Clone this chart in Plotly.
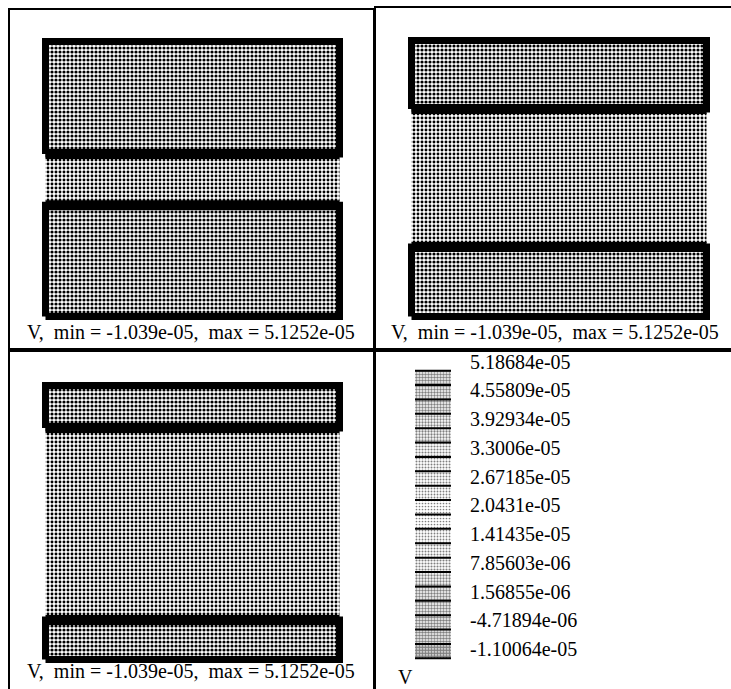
import plotly.graph_objects as go

# ---------------- data ----------------
field_name = "V"
v_min = -1.039e-05
v_max = 5.1252e-05
# interface positions (normalised domain height 0..1), one per snapshot panel
upper_plate_bottom = [0.591, 0.752, 0.845]
lower_plate_top = [0.405, 0.252, 0.144]
# contour levels of the legend
levels = [5.18684e-05, 4.55809e-05, 3.92934e-05, 3.3006e-05, 2.67185e-05,
          2.0431e-05, 1.41435e-05, 7.85603e-06, 1.56855e-06, -4.71894e-06,
          -1.10064e-05]
level_labels = ["5.18684e-05", "4.55809e-05", "3.92934e-05", "3.3006e-05",
                "2.67185e-05", "2.0431e-05", "1.41435e-05", "7.85603e-06",
                "1.56855e-06", "-4.71894e-06", "-1.10064e-05"]
# stipple density of each legend band (top to bottom)
band_density = [0.55, 0.5, 0.5, 0.45, 0.45, 0.4, 0.35, 0.35, 0.3, 0.25,
                0.25, 0.3, 0.35, 0.4, 0.45, 0.5, 0.5, 0.55, 0.6, 0.75]
plate_density = 0.5
gap_density = 0.42

# ---------------- layout constants (pixels) ----------------
W, H = 731, 689
FONT = "Liberation Serif, Times New Roman, serif"

def px2paper_x(p):
    return p / W

def px2paper_y(p):
    return 1 - p / H

def axis_range(frame_lo, frame_hi, d0_px, d1_px, d0=0.0, d1=1.0):
    k = (d1_px - d0_px) / (d1 - d0)
    return d0 + (frame_lo - d0_px) / k, d0 + (frame_hi - d0_px) / k

panels = [
    dict(frame=(10, 373, 10, 348), xa=(45.5, 339.5), ya=(316.5, 41.5), label_y=332,
         sides=dict(x_mirror=True, x_side="bottom", y_mirror=True)),
    dict(frame=(376, 731, 8, 348), xa=(411.5, 706.5), ya=(316.5, 40.5), label_y=332,
         sides=dict(x_mirror=True, x_side="bottom", y_mirror=False)),
    dict(frame=(10, 373, 352, 689), xa=(45.5, 339.5), ya=(659.5, 385.5), label_y=671,
         sides=dict(x_mirror=False, x_side="top", y_mirror=True)),
]

fig = go.Figure()
layout = dict(width=W, height=H, margin=dict(l=0, r=0, t=0, b=0),
              paper_bgcolor="white", plot_bgcolor="white", showlegend=False,
              barmode="overlay", annotations=[])

def pat(density, size=4):
    return dict(shape=".", size=size, solidity=density, fgcolor="black",
                bgcolor="white", fillmode="replace")

for i, p in enumerate(panels):
    n = i + 1
    xs = "x" if n == 1 else f"x{n}"
    ys = "y" if n == 1 else f"y{n}"
    fx0, fx1, fy0, fy1 = p["frame"]
    xr = axis_range(fx0, fx1, p["xa"][0], p["xa"][1])
    k = (p["ya"][1] - p["ya"][0])
    yr = ((fy1 - p["ya"][0]) / k, (fy0 - p["ya"][0]) / k)
    ub = upper_plate_bottom[i]
    lt = lower_plate_top[i]
    fig.add_trace(go.Scatter(x=[0, 1, 1, 0, 0], y=[lt, lt, ub, ub, lt], mode="lines",
                             fill="toself", fillcolor="white", fillpattern=pat(gap_density),
                             line=dict(width=0, color="rgba(0,0,0,0)"), xaxis=xs, yaxis=ys,
                             hoverinfo="skip"))
    for (ylo, yhi) in [(ub, 1), (0, lt)]:
        fig.add_trace(go.Scatter(x=[0, 1, 1, 0, 0], y=[ylo, ylo, yhi, yhi, ylo], mode="lines",
                                 fill="toself", fillcolor="white",
                                 fillpattern=pat(plate_density),
                                 line=dict(width=7, color="black"), xaxis=xs, yaxis=ys,
                                 hoverinfo="skip"))
    fig.add_trace(go.Scatter(x=[0, 1, None, 0, 1], y=[ub, ub, None, lt, lt], mode="lines",
                             line=dict(width=10, color="black"), xaxis=xs, yaxis=ys,
                             hoverinfo="skip"))
    ax = dict(domain=[px2paper_x(fx0), px2paper_x(fx1)], range=list(xr), showgrid=False,
              zeroline=False, showticklabels=False, ticks="", showline=True, linecolor="black",
              linewidth=2, mirror=p["sides"]["x_mirror"], side=p["sides"]["x_side"],
              anchor=ys, fixedrange=True)
    ay = dict(domain=[px2paper_y(fy1), px2paper_y(fy0)], range=list(yr), showgrid=False,
              zeroline=False, showticklabels=False, ticks="", showline=True, linecolor="black",
              linewidth=2, mirror=p["sides"]["y_mirror"], side="left",
              anchor=xs, fixedrange=True)
    layout["xaxis" if n == 1 else f"xaxis{n}"] = ax
    layout["yaxis" if n == 1 else f"yaxis{n}"] = ay
    label = f"{field_name},\u00a0 min = {v_min:.4g},\u00a0 max = {v_max:.5g}"
    layout["annotations"].append(dict(
        text=label, x=px2paper_x((fx0 + fx1 + (3 if n == 2 else 0)) / 2), y=px2paper_y(p["label_y"]),
        xref="paper", yref="paper", xanchor="center", yanchor="middle", showarrow=False,
        font=dict(family=FONT, size=20, color="black")))

# ---------------- legend panel ----------------
lfx0, lfx1, lfy0, lfy1 = 376, 731, 352, 689
step = levels[0] - levels[1]
sub = []
for a, b in zip(levels[:-1], levels[1:]):
    sub += [a, (a + b) / 2]
sub.append(levels[-1])
band_centers = sub[1:]
h = step / 2
band_base = [c - h / 2 for c in band_centers]
band_edges = [c + h / 2 for c in band_centers] + [band_centers[-1] - h / 2]

fig.add_trace(go.Bar(x=[0] * len(band_centers), y=[h] * len(band_centers), base=band_base,
                     width=1, marker=dict(color="white", line=dict(width=0),
                                          pattern=dict(shape=".", size=3, solidity=band_density,
                                                       fgcolor="black", bgcolor="white")),
                     xaxis="x4", yaxis="y4", hoverinfo="skip"))
lx, ly = [], []
for e in band_edges:
    lx += [-0.5, 0.5, None]
    ly += [e, e, None]
fig.add_trace(go.Scatter(x=lx, y=ly, mode="lines", line=dict(width=2, color="black"),
                         xaxis="x4", yaxis="y4", hoverinfo="skip"))
fig.add_trace(go.Scatter(x=[1.03] * len(levels), y=levels, mode="text", text=level_labels,
                         textposition="middle right",
                         textfont=dict(family=FONT, size=20, color="black"),
                         xaxis="x4", yaxis="y4", hoverinfo="skip"))

sw_px = 36.0
sw_c = 433.0
lxr = ((lfx0 - sw_c) / sw_px, (lfx1 - sw_c) / sw_px)
top_px, bot_px = 363.5, 651.1
kk = (bot_px - top_px) / (levels[-1] - levels[0])
lyr = (levels[0] + (lfy1 - top_px) / kk, levels[0] + (lfy0 - top_px) / kk)
layout["xaxis4"] = dict(domain=[px2paper_x(lfx0), px2paper_x(lfx1)], range=list(lxr),
                        showgrid=False, zeroline=False, showticklabels=False, ticks="",
                        showline=True, linecolor="black", linewidth=2, mirror=False,
                        side="top", anchor="y4", fixedrange=True)
layout["yaxis4"] = dict(domain=[px2paper_y(lfy1), px2paper_y(lfy0)], range=list(lyr),
                        showgrid=False, zeroline=False, showticklabels=False, ticks="",
                        showline=True, linecolor="black", linewidth=2, mirror=False,
                        side="left", anchor="x4", fixedrange=True)
layout["annotations"].append(dict(
    text=field_name, x=px2paper_x(396), y=px2paper_y(677), xref="paper", yref="paper",
    xanchor="left", yanchor="middle", showarrow=False,
    font=dict(family=FONT, size=20, color="black")))

fig.update_layout(**layout)
fig.write_html("out.html", config=dict(displayModeBar=False),
               post_script="document.body.style.margin='0';document.body.style.overflow='hidden';")
